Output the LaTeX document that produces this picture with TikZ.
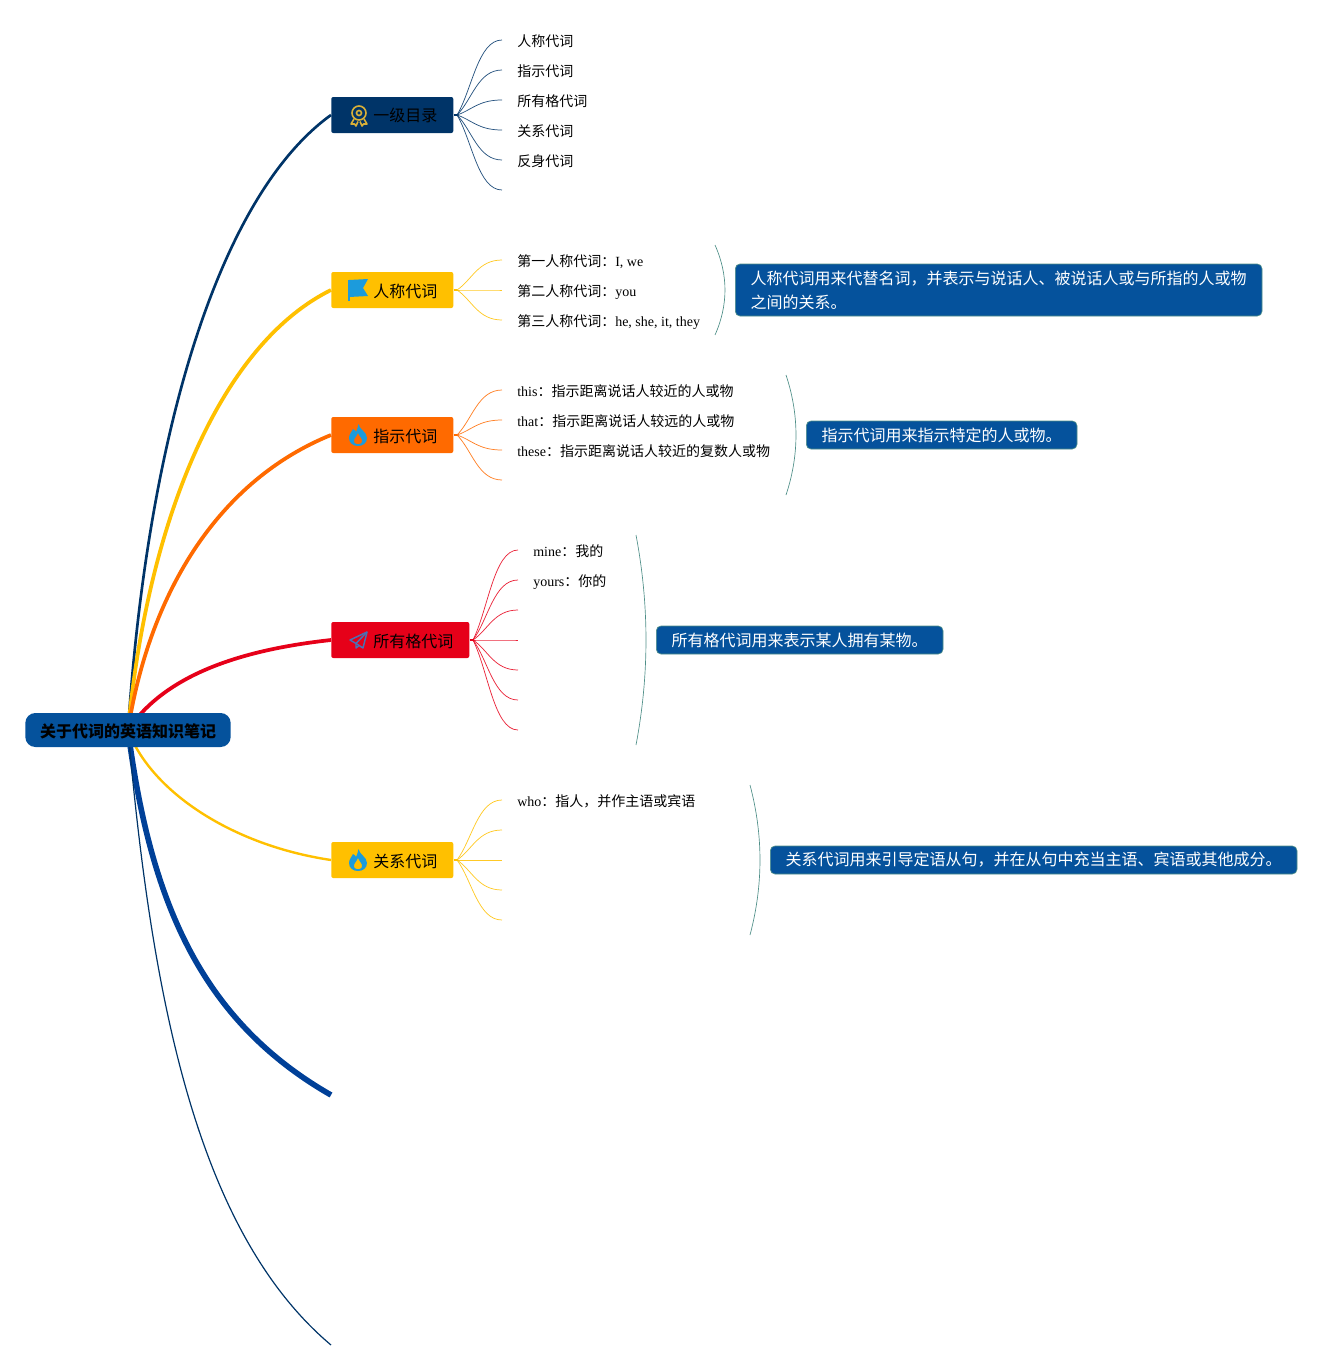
\documentclass[tikz,border=0pt]{standalone}
\usepackage{fontspec}
\setmainfont{Liberation Serif}
\newfontfamily\cjk{Noto Sans CJK SC}
\usetikzlibrary{backgrounds,calc}
\newcommand{\zh}[1]{{\cjk #1}}
\definecolor{rootblue}{HTML}{05529C}
\definecolor{navyline}{HTML}{003468}
\definecolor{sunyellow}{HTML}{FFC000}
\definecolor{fireorange}{HTML}{FF6A00}
\definecolor{signalred}{HTML}{E60019}
\definecolor{deepblue}{HTML}{004098}
\definecolor{tealline}{HTML}{4F8F88}
\definecolor{iconblue}{HTML}{1C9BDC}
\definecolor{icongold}{HTML}{D9B038}
\definecolor{planeblue}{HTML}{4A72B4}
% fan of thin curves: hub name, offsets, colour
\newcommand{\fanout}[3]{%
  \foreach \d in {#2} {
    \coordinate (#1end) at ($(#1)+(45,\d)$);
    \draw[twig,#3] (#1) .. controls +(15,\d/3) and +(-24,0) .. (#1end);
  }}
\tikzset{
  rootbox/.style={draw=none,fill=rootblue,rounded corners=7.5pt,minimum height=25.5pt,inner xsep=11pt,inner ysep=0pt,text height=10.5pt,text depth=0pt,font=\fontsize{12}{14}\selectfont\bfseries},
  branchbox/.style={anchor=west,fill=#1,rounded corners=1.5pt,minimum height=27pt,inner xsep=12pt,inner ysep=0pt,text height=10.5pt,text depth=0pt,font=\fontsize{12}{14}\selectfont,execute at begin node={\hspace*{19.5pt}}},
  leaftext/.style={anchor=west,inner sep=0pt,text height=8pt,text depth=0pt,font=\fontsize{10.5}{12}\selectfont},
  notebox/.style={anchor=west,draw=tealline,line width=0.5pt,fill=rootblue,text=white,rounded corners=3.5pt,minimum height=21pt,inner xsep=11.5pt,inner ysep=0pt,align=left,font=\fontsize{12}{18}\selectfont},
  twig/.style={line width=0.55pt,opacity=0.85},
  bracketline/.style={draw=tealline,line width=0.5pt},
  flameicon/.pic={
    \fill[iconblue,even odd rule,yscale=-1] (0.5,11) .. controls (1,6) and (9,3) .. (9,-3) .. controls (9,-8) and (5,-11) .. (0,-11)
      .. controls (-5,-11) and (-9,-8) .. (-9,-3) .. controls (-9,1) and (-6,3) .. (-5,6) .. controls (-3,5) and (-2,4) .. (-2,3)
      .. controls (-1,5) and (0,8) .. (0.5,11) -- cycle
      (0,2) .. controls (1,-1) and (5,-4) .. (4,-7) .. controls (3,-10) and (-3,-10) .. (-4,-7) .. controls (-5,-4) and (-1,-1) .. (0,2) -- cycle;
  },
  flagicon/.pic={
    \draw[iconblue,line width=0.8pt] (-9,-10) -- (-9,11);
    \fill[iconblue] (-9,-10) -- (10,-11) -- (5,-2) -- (10,6) -- (-9,7) -- cycle;
  },
  medalicon/.pic={
    \draw[icongold,line width=1.2pt] (0,-2) circle (7);
    \draw[icongold,line width=1.2pt] (0,-2) circle (2.5);
    \draw[icongold,line width=1.2pt,line join=round] (-5,4) -- (-8,9) -- (-4.5,9) -- (-3,11) -- (-1,6.5);
    \draw[icongold,line width=1.2pt,line join=round] (5,4) -- (8,9) -- (4.5,9) -- (3,11) -- (1,6.5);
  },
  planeicon/.pic={
    \draw[planeblue,line width=1.1pt,line join=round] (9,-8) -- (-8,0) -- (-2,3.5) -- (5,8) -- cycle;
    \draw[planeblue,line width=1.1pt,line join=round] (9,-8) -- (-2,3.5) -- (-2,8) -- (1,5.5);
  }
}
\begin{document}
\begin{tikzpicture}[x=0.75pt,y=-0.75pt]
  \useasboundingbox (0,0) rectangle (1342,1370);

  % centre and first level
  \node[rootbox] (root) at (128,730) {\zh{关于代词的英语知识笔记}};
  \node[branchbox=navyline] (dir) at (331,115) {\zh{一级目录}};
  \node[branchbox=sunyellow] (pers) at (331,290) {\zh{人称代词}};
  \node[branchbox=fireorange] (demo) at (331,435) {\zh{指示代词}};
  \node[branchbox=signalred] (poss) at (331,640) {\zh{所有格代词}};
  \node[branchbox=sunyellow] (rel) at (331,860) {\zh{关系代词}};
  \coordinate (tailblue) at (331,1095);
  \coordinate (tailnavy) at (331,1345);

  \pic at (359,115) {medalicon};
  \pic at (358,290) {flagicon};
  \pic at (358,435) {flameicon};
  \pic at (358,640) {planeicon};
  \pic at (358,860) {flameicon};

  % main curves
  \begin{scope}[on background layer]
    \draw[navyline,line width=2pt] (root.center) .. controls (148,430) and (220,195) .. (dir.west);
    \draw[sunyellow,line width=2.8pt] (root.center) .. controls (148,520) and (220,345) .. (pers.west);
    \draw[fireorange,line width=2.8pt] (root.center) .. controls (150,590) and (220,480) .. (demo.west);
    \draw[signalred,line width=2.8pt] (root.center) .. controls (165,675) and (240,650) .. (poss.west);
    \draw[sunyellow,line width=1.8pt] (root.center) .. controls (150,790) and (230,845) .. (rel.west);
    \draw[deepblue,line width=4.2pt] (root.center) .. controls (150,900) and (200,1020) .. (tailblue);
    \draw[navyline,line width=0.9pt] (root.center) .. controls (152,1000) and (197,1232) .. (tailnavy);
  \end{scope}

  % hubs behind the boxes
  \coordinate (hubdir) at (457,115);
  \coordinate (hubpers) at (457,290);
  \coordinate (hubdemo) at (457,435);
  \coordinate (hubposs) at (473,640);
  \coordinate (hubrel) at (457,860);
  \draw[navyline,line width=1.5pt] (dir.east) -- (hubdir);
  \draw[sunyellow,line width=1.5pt] (pers.east) -- (hubpers);
  \draw[fireorange,line width=1.5pt] (demo.east) -- (hubdemo);
  \draw[signalred,line width=1.5pt] (poss.east) -- (hubposs);
  \draw[sunyellow,line width=1.5pt] (rel.east) -- (hubrel);
  \fanout{hubdir}{-75,-45,-15,15,45,75}{navyline}
  \fanout{hubpers}{-30,0,30}{sunyellow}
  \fanout{hubdemo}{-45,-15,15,45}{fireorange}
  \fanout{hubposs}{-90,-60,-30,0,30,60,90}{signalred}
  \fanout{hubrel}{-60,-30,0,30,60}{sunyellow}

  % leaves
  \node[leaftext] (d1) at (517,41) {\zh{人称代词}};
  \node[leaftext] (d2) at (517,71) {\zh{指示代词}};
  \node[leaftext] (d3) at (517,101) {\zh{所有格代词}};
  \node[leaftext] (d4) at (517,131) {\zh{关系代词}};
  \node[leaftext] (d5) at (517,161) {\zh{反身代词}};
  \node[leaftext] (p1) at (517,261) {\zh{第一人称代词：}I, we};
  \node[leaftext] (p2) at (517,291) {\zh{第二人称代词：}you};
  \node[leaftext] (p3) at (517,321) {\zh{第三人称代词：}he, she, it, they};
  \node[leaftext] (t1) at (517,391) {this\zh{：指示距离说话人较近的人或物}};
  \node[leaftext] (t2) at (517,421) {that\zh{：指示距离说话人较远的人或物}};
  \node[leaftext] (t3) at (517,451) {these\zh{：指示距离说话人较近的复数人或物}};
  \node[leaftext] (m1) at (533,551) {mine\zh{：我的}};
  \node[leaftext] (m2) at (533,581) {yours\zh{：你的}};
  \node[leaftext] (w1) at (517,801) {who\zh{：指人，并作主语或宾语}};

  % summaries
  \node[notebox,minimum height=39pt] (npers) at (735,290) {\zh{人称代词用来代替名词，并表示与说话人、被说话人或与所指的人或物}\\\zh{之间的关系。}};
  \node[notebox] (ndemo) at (806,435) {\zh{指示代词用来指示特定的人或物。}};
  \node[notebox] (nposs) at (656,640) {\zh{所有格代词用来表示某人拥有某物。}};
  \node[notebox] (nrel) at (770,860) {\zh{关系代词用来引导定语从句，并在从句中充当主语、宾语或其他成分。}};

  \coordinate (ap) at (715,245);
  \coordinate (bp) at (715,335);
  \coordinate (at) at (786,375);
  \coordinate (bt) at (786,495);
  \coordinate (am) at (636,535);
  \coordinate (bm) at (636,745);
  \coordinate (aw) at (750,785);
  \coordinate (bw) at (750,935);
  \draw[bracketline] (ap) .. controls +(13.3,30) and +(13.3,-30) .. (bp);
  \draw[bracketline] (at) .. controls +(13.3,40) and +(13.3,-40) .. (bt);
  \draw[bracketline] (am) .. controls +(13.3,70) and +(13.3,-70) .. (bm);
  \draw[bracketline] (aw) .. controls +(13.3,50) and +(13.3,-50) .. (bw);
\end{tikzpicture}
\end{document}
